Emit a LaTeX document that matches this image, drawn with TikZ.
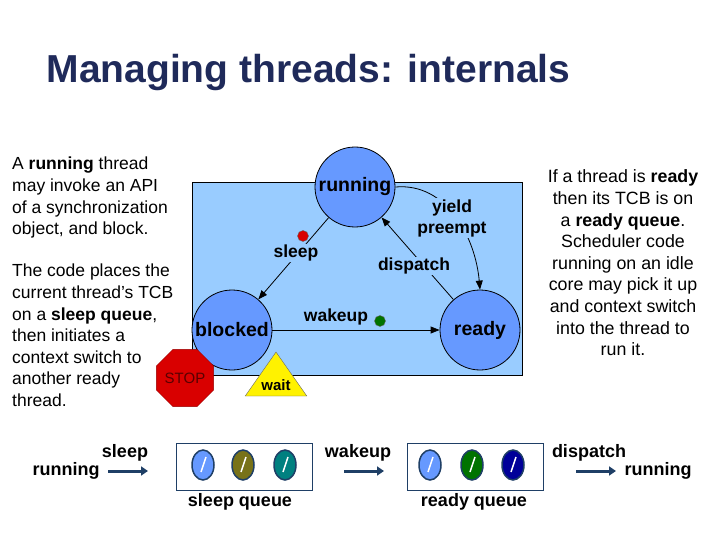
\documentclass[tikz,border=0pt]{standalone}
\usepackage{fontspec}
\setmainfont{Liberation Sans}
\usetikzlibrary{shapes.geometric,arrows.meta,calc}
\definecolor{bgblue}{HTML}{99CCFF}
\definecolor{stblue}{HTML}{6699FF}
\definecolor{titlec}{HTML}{1F2A5A}
\definecolor{arr}{HTML}{1F3F66}
\begin{document}
\begin{tikzpicture}[x=1pt,y=-1pt,
  txt/.style={font=\fontsize{18}{21.5}\selectfont\bfseries, inner sep=1pt},
  body/.style={font=\fontsize{17.5}{21.6}\selectfont, align=left, inner sep=0pt},
  state/.style={circle, draw=black, thick, fill=stblue, minimum size=80pt, inner sep=0pt, font=\fontsize{19.5}{22}\selectfont\bfseries},
  lbl/.style={font=\fontsize{17.5}{21}\selectfont\bfseries, fill=bgblue, inner sep=1pt, align=center},
  ed/.style={thick, -{Triangle[length=9pt,width=7pt]}},
  qarr/.style={line width=3pt, arr, -{Triangle[length=7pt,width=9pt]}},
  thr/.style={ellipse, draw=arr, line width=1.5pt, minimum width=22pt, minimum height=30pt, inner sep=0pt},
  qbox/.style={draw=arr, thick, minimum width=136pt, minimum height=47pt, inner sep=0pt}]
\useasboundingbox (0,0) rectangle (720,540);
\node[anchor=west, font=\fontsize{39}{44}\selectfont\bfseries, text=titlec] (title) at (43,73) {Managing threads: internals};
\node[body, anchor=north west] (t1) at (12,157) {A \textbf{running} thread\\may invoke an API\\of a synchronization\\object, and block.};
\node[body, anchor=north west] (t2) at (12,264) {The code places the\\current thread’s TCB\\on a \textbf{sleep queue},\\then initiates a\\context switch to\\another ready\\thread.};
\node[body, align=center, font=\fontsize{17.8}{21.6}\selectfont] (t3) at (623,263) {If a thread is \textbf{ready}\\then its TCB is on\\a \textbf{ready queue}.\\Scheduler code\\running on an idle\\core may pick it up\\and context switch\\into the thread to\\run it.};
\node[draw=black, thick, fill=bgblue, minimum width=330pt, minimum height=193pt, inner sep=0pt] (bg) at (357,278.5) {};
\node[state] (run) at (355,187) {running};
\node[state] (blk) at (232,330) {blocked};
\node[state] (rdy) at (480,330) {ready};
\draw[ed] (run) -- (blk);
\draw[ed] (blk) -- (rdy);
\draw[ed] (rdy) -- (run);
\draw[ed] (run.east) to[out=5,in=95] (rdy.north);
\node[lbl] (sl) at (296,253) {sleep};
\node[lbl] (yp) at (452,218) {yield\\preempt};
\node[lbl] (dp) at (414,266) {dispatch};
\node[font=\fontsize{17.5}{21}\selectfont\bfseries] (wk) at (336,317) {wakeup};
\node[circle, fill=red!85!black, draw=black!60, minimum size=11pt, inner sep=0pt] (rd) at (303,236) {};
\node[circle, fill=green!45!black, draw=black!60, minimum size=11pt, inner sep=0pt] (gd) at (380,321) {};
\node[regular polygon, regular polygon sides=8, fill=red!85!black, draw=red!60!black, minimum size=54pt, inner sep=0pt, font=\fontsize{15}{17}\selectfont, text=red!35!black] (stop) at (185,378) {STOP};
\node[isosceles triangle, isosceles triangle apex angle=70, shape border rotate=90, fill=yellow, draw=black!60, minimum height=44pt, inner sep=0pt] (wt) at (276,380) {};
\node[font=\fontsize{15}{17}\selectfont\bfseries] (wtl) at (276,385) {wait};
% bottom
\node[qbox] (sq) at (244,466.5) {};
\node[qbox] (rq) at (475,466.5) {};
\node[thr, fill=stblue] (s1) at (203,465) {};
\node[thr, fill=olive!80!black] (s2) at (243,465) {};
\node[thr, fill=teal] (s3) at (285,465) {};
\node[thr, fill=stblue] (r1) at (430,465) {};
\node[thr, fill=green!45!black] (r2) at (472,465) {};
\node[thr, fill=blue!60!black] (r3) at (513,465) {};
\foreach \n in {s1,s2,s3,r1,r2,r3}{\draw[white, line width=1.5pt] ($(\n)+(3,-8)$) -- ($(\n)+(-2,7)$);}
\node[txt] (b1) at (66,471) {running};
\node[txt] (b2) at (125,453) {sleep};
\coordinate (a1s) at (108,471); \coordinate (a1e) at (148,471);
\draw[qarr] (a1s) -- (a1e);
\node[txt] (b3) at (240,502) {sleep queue};
\node[txt] (b4) at (358,453) {wakeup};
\coordinate (a2s) at (344,471); \coordinate (a2e) at (384,471);
\draw[qarr] (a2s) -- (a2e);
\node[txt] (b5) at (474,502) {ready queue};
\node[txt] (b6) at (589,453) {dispatch};
\coordinate (a3s) at (576,471); \coordinate (a3e) at (616,471);
\draw[qarr] (a3s) -- (a3e);
\node[txt] (b7) at (658,471) {running};
\end{tikzpicture}
\end{document}
